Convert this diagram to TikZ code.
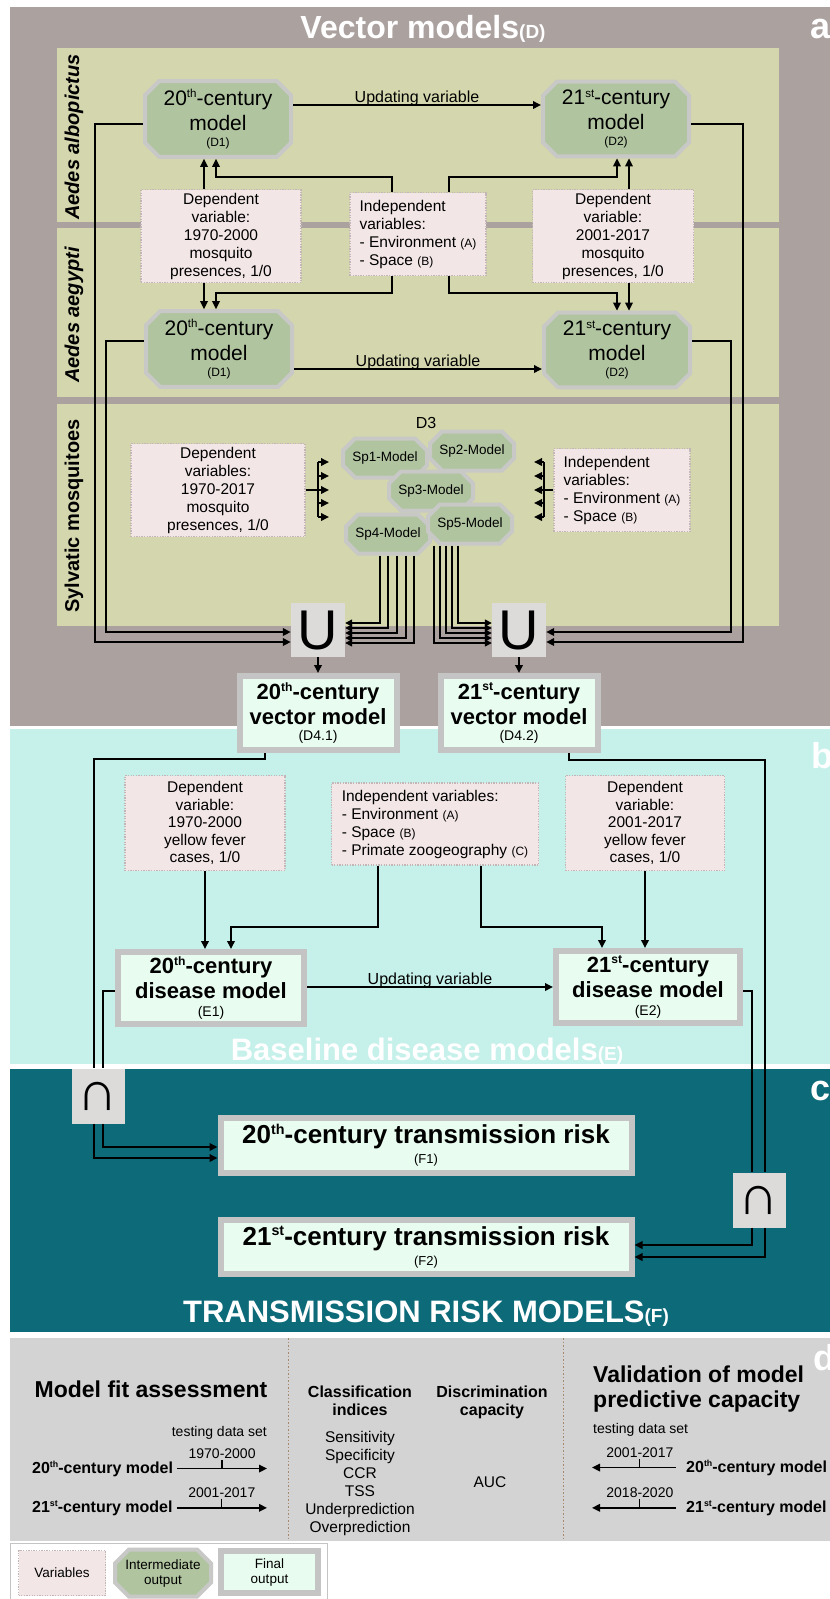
\documentclass[tikz,border=0pt]{standalone}
\usepackage{fontspec}
\setmainfont{Liberation Sans}
\usepackage{graphicx}
\usetikzlibrary{arrows.meta,shapes.misc,calc}

\definecolor{panelA}{RGB}{171,162,160}
\definecolor{bandA}{RGB}{212,215,173}
\definecolor{panelB}{RGB}{198,240,234}
\definecolor{panelC}{RGB}{13,106,121}
\definecolor{panelD}{RGB}{211,211,211}
\definecolor{varFill}{RGB}{243,230,230}
\definecolor{varLine}{RGB}{196,182,182}
\definecolor{octFill}{RGB}{176,196,160}
\definecolor{octLine}{RGB}{200,200,198}
\definecolor{finFill}{RGB}{233,252,240}
\definecolor{finLine}{RGB}{196,196,196}
\definecolor{opFill}{RGB}{221,218,218}
\definecolor{sepLine}{RGB}{165,138,112}

\newcommand{\fsize}[2]{\fontsize{#1}{#2}\selectfont}
\newcommand{\ord}[1]{\raisebox{0.7ex}{\scalebox{0.55}{#1}}}

\begin{document}
\begin{tikzpicture}[
    x=1pt, y=-1pt,
    >={Triangle[length=8pt,width=7.5pt]},
    link/.style={draw=black, line width=1.8pt},
    arr/.style={link, ->},
    bundle/.style={draw=black, line width=1.4pt, -{Triangle[length=7pt,width=7pt]}},
    varbox/.style={rectangle, draw=varLine, dash pattern=on 1.3pt off 1.3pt, line width=1.4pt, fill=varFill, align=center, inner sep=2pt, font=\fsize{15.5}{18}},
    interbox/.style={chamfered rectangle, chamfered rectangle sep=7pt, draw=octLine, line width=4pt, fill=octFill, align=center, inner sep=1pt, font=\fsize{21}{25}},
    spbox/.style={interbox, chamfered rectangle sep=6pt, minimum width=84pt, minimum height=39pt, font=\fsize{13.5}{15}},
    finalbox/.style={rectangle, draw=finLine, line width=6pt, fill=finFill, align=center, inner sep=1pt, font=\bfseries\fsize{22}{25}},
    opbox/.style={rectangle, fill=opFill, minimum width=54pt, minimum height=54pt, inner sep=0pt, font=\fsize{56}{56}},
    sectitle/.style={text=white, font=\bfseries\fsize{31}{31}, anchor=base},
    panelletter/.style={text=white, font=\bfseries\fsize{36}{36}, anchor=base west, inner sep=0pt},
    bandlabel/.style={rotate=90, font=\bfseries\fsize{20}{20}},
    updlabel/.style={midway, anchor=base, yshift=3pt, inner sep=0pt, font=\fsize{16}{16}},
    yearlabel/.style={anchor=base, yshift=10pt, inner sep=0pt, font=\fsize{14}{14}},
    sepline/.style={draw=sepLine, line width=1pt, dash pattern=on 1.5pt off 2pt},
    tickline/.style={draw=black, line width=1.2pt}
]
    \useasboundingbox (0,0) rectangle (830,1599);
    \clip (0,0) rectangle (830,1599);

    % Panels
    \fill[panelA] (10,7) rectangle (830,726);
    \foreach \ya/\yb in {48/222, 228/397, 404/626}
        \fill[bandA] (57,\ya) rectangle (779,\yb);
    \fill[panelB] (10,729) rectangle (830,1064);
    \fill[panelC] (10,1069) rectangle (830,1332);
    \fill[panelD] (10,1338) rectangle (830,1541);
    \filldraw[fill=white, draw=finLine, line width=1pt] (10,1543) rectangle (327,1610);

    % Titles
    \node[sectitle, font=\bfseries\fsize{32}{32}] (titleD) at (423,38) {Vector models{\fsize{19}{19}(D)}};
    \node[sectitle] (titleE) at (427,1060) {Baseline disease models{\fsize{19}{19}(E)}};
    \node[sectitle] (titleF) at (426,1322) {TRANSMISSION RISK MODELS{\fsize{19}{19}(F)}};
    \node[panelletter] at (810,38) {a};
    \node[panelletter] at (811,768) {b};
    \node[panelletter] at (810,1100) {c};
    \node[panelletter] at (813,1370) {d};

    % Band labels
    \node[bandlabel] at (74,137) {\itshape Aedes albopictus};
    \node[bandlabel] at (74,315) {\itshape Aedes aegypti};
    \node[bandlabel] at (74,516) {Sylvatic mosquitoes};

    % Albopictus and aegypti models
    \node[interbox, minimum width=146pt, minimum height=74pt] (alb20) at (218,119) {20\ord{th}-century\\model\\[-9pt]{\fsize{12}{12}(D1)}};
    \node[interbox, minimum width=146pt, minimum height=74pt] (alb21) at (616,119) {21\ord{st}-century\\model\\[-9pt]{\fsize{12}{12}(D2)}};
    \node[interbox, minimum width=146pt, minimum height=74pt] (aeg20) at (219,349) {20\ord{th}-century\\model\\[-9pt]{\fsize{12}{12}(D1)}};
    \node[interbox, minimum width=146pt, minimum height=74pt] (aeg21) at (617,350) {21\ord{st}-century\\model\\[-9pt]{\fsize{12}{12}(D2)}};

    % Variables for both Aedes
    \node[varbox, minimum width=160pt, minimum height=93pt] (depA20) at (221,236) {Dependent\\variable:\\1970-2000\\mosquito\\presences, 1/0};
    \node[varbox, minimum width=136pt, minimum height=83pt, align=left] (indA) at (418,234) {Independent\\variables:\\- Environment {\fsize{12}{12}(A)}\\- Space {\fsize{12}{12}(B)}};
    \node[varbox, minimum width=161pt, minimum height=93pt] (depA21) at (613,236) {Dependent\\variable:\\2001-2017\\mosquito\\presences, 1/0};

    % Sylvatic mosquitoes
    \node[font=\fsize{16}{16}] (d3) at (426,423) {D3};
    \node[varbox, minimum width=174pt, minimum height=93pt] (depS) at (218,490) {Dependent\\variables:\\1970-2017\\mosquito\\presences, 1/0};
    \node[varbox, minimum width=136pt, minimum height=83pt, align=left] (indS) at (622,490) {Independent\\variables:\\- Environment {\fsize{12}{12}(A)}\\- Space {\fsize{12}{12}(B)}};
    \node[spbox] (sp1) at (385,458) {Sp1-Model};
    \node[spbox] (sp2) at (472,451) {Sp2-Model};
    \node[spbox] (sp3) at (431,491) {Sp3-Model};
    \node[spbox] (sp4) at (388,534) {Sp4-Model};
    \node[spbox] (sp5) at (470,524) {Sp5-Model};

    % Unions and vector models
    \node[opbox] (un20) at (318,630) {U};
    \node[opbox] (un21) at (519,630) {U};
    \node[finalbox, minimum width=157pt, minimum height=74pt] (vec20) at (318,713) {20\ord{th}-century\\vector model\\[-9pt]{\mdseries\fsize{14}{14}(D4.1)}};
    \node[finalbox, minimum width=157pt, minimum height=74pt] (vec21) at (519,713) {21\ord{st}-century\\vector model\\[-9pt]{\mdseries\fsize{14}{14}(D4.2)}};

    % Baseline disease models
    \node[varbox, minimum width=160pt, minimum height=95pt, font=\fsize{15.5}{17.5}] (depE20) at (205,823) {Dependent\\variable:\\1970-2000\\yellow fever\\cases, 1/0};
    \node[varbox, minimum width=207pt, minimum height=82pt, align=left] (indE) at (435,824) {Independent variables:\\- Environment {\fsize{12}{12}(A)}\\- Space {\fsize{12}{12}(B)}\\- Primate zoogeography {\fsize{12}{12}(C)}};
    \node[varbox, minimum width=159pt, minimum height=95pt, font=\fsize{15.5}{17.5}] (depE21) at (645,823) {Dependent\\variable:\\2001-2017\\yellow fever\\cases, 1/0};
    \node[finalbox, minimum width=186pt, minimum height=72pt] (dis20) at (211,988) {20\ord{th}-century\\disease model\\[-7pt]{\mdseries\fsize{14}{14}(E1)}};
    \node[finalbox, minimum width=184pt, minimum height=72pt] (dis21) at (648,987) {21\ord{st}-century\\disease model\\[-7pt]{\mdseries\fsize{14}{14}(E2)}};

    % Intersections and transmission risk
    \node[opbox, minimum width=53pt, minimum height=55pt] (in20) at (98,1096) {∩};
    \node[opbox, minimum width=53pt, minimum height=55pt] (in21) at (759,1200) {∩};
    \node[finalbox, minimum width=411pt, minimum height=55pt, font=\bfseries\fsize{26}{30}] (risk20) at (426,1145) {20\ord{th}-century transmission risk\\[-10pt]{\mdseries\fsize{13}{13}(F1)}};
    \node[finalbox, minimum width=411pt, minimum height=54pt, font=\bfseries\fsize{26}{30}] (risk21) at (426,1247) {21\ord{st}-century transmission risk\\[-10pt]{\mdseries\fsize{13}{13}(F2)}};

    % Arrows: Aedes inputs
    \draw[arr] (204,0 |- depA20.north) -- (204,0 |- alb20.south);
    \draw[arr] (204,0 |- depA20.south) -- (204,0 |- aeg20.north);
    \draw[arr] (392,0 |- indA.north) |- (216,177) -- (216,0 |- alb20.south);
    \draw[arr] (392,0 |- indA.south) |- (216,293) -- (216,0 |- aeg20.north);
    \draw[arr] (449,0 |- indA.north) |- (617,177) -- (617,0 |- alb21.south);
    \draw[arr] (449,0 |- indA.south) |- (617,293) -- (617,0 |- aeg21.north);
    \draw[arr] (629,0 |- depA21.north) -- (629,0 |- alb21.south);
    \draw[arr] (629,0 |- depA21.south) -- (629,0 |- aeg21.north);
    \draw[arr] (alb20.east |- 0,105) -- node[updlabel]{Updating variable} (alb21.west |- 0,105);
    \draw[arr] (aeg20.east |- 0,369) -- node[updlabel]{Updating variable} (aeg21.west |- 0,369);

    % Arrows: sylvatic inputs
    \coordinate (depbar) at (318,490);
    \coordinate (indbar) at (544,490);
    \draw[link] (depS.east) -- (depbar);
    \draw[link] ([yshift=28pt]depbar) -- ([yshift=-27pt]depbar);
    \foreach \dy in {28,14,0,-13,-27}
        \draw[arr] ([yshift=\dy pt]depbar) -- ([yshift=\dy pt, xshift=11pt]depbar);
    \draw[link] (indS.west) -- (indbar);
    \draw[link] ([yshift=28pt]indbar) -- ([yshift=-27pt]indbar);
    \foreach \dy in {28,14,0,-13,-27}
        \draw[arr] ([yshift=\dy pt]indbar) -- ([yshift=\dy pt, xshift=-10pt]indbar);

    % Arrows: into the unions
    \draw[arr] (alb20.west |- 0,124) -| (95,642) -- (un20.west |- 0,642);
    \draw[arr] (aeg20.west |- 0,341) -| (106,632) -- (un20.west |- 0,632);
    \draw[arr] (alb21.east |- 0,124) -| (743,642) -- (un21.east |- 0,642);
    \draw[arr] (aeg21.east |- 0,341) -| (731,632) -- (un21.east |- 0,632);
    \foreach \x/\y in {380/623, 388/628, 397/633, 406/638, 414/643}
        \draw[bundle] (\x,0 |- sp4.south) |- (un20.east |- 0,\y);
    \foreach \x/\y in {434/643, 440/638, 446/633, 452/628, 458/623}
        \draw[bundle] (\x,0 |- sp5.south) |- (un21.west |- 0,\y);
    \draw[arr] (un20) -- (vec20);
    \draw[arr] (un21) -- (vec21);

    % Arrows: disease models
    \draw[arr] (205,0 |- depE20.south) -- (205,0 |- dis20.north);
    \draw[arr] (378,0 |- indE.south) |- (231,927) -- (231,0 |- dis20.north);
    \draw[arr] (481,0 |- indE.south) |- (602,927) -- (602,0 |- dis21.north);
    \draw[arr] (645,0 |- depE21.south) -- (645,0 |- dis21.north);
    \draw[arr] (dis20.east |- 0,987) -- node[updlabel]{Updating variable} (dis21.west |- 0,987);

    % Lines into the intersections
    \draw[link] (265,0 |- vec20.south) |- (94,759) -- (94,0 |- in20.north);
    \draw[link] (dis20.west |- 0,991) -| (103,0 |- in20.north);
    \draw[link] (569,0 |- vec21.south) |- (765,760) -- (765,0 |- in21.north);
    \draw[link] (dis21.east |- 0,991) -| (752,0 |- in21.north);
    \draw[arr] (103,0 |- in20.south) |- (risk20.west |- 0,1147);
    \draw[arr] (94,0 |- in20.south) |- (risk20.west |- 0,1158);
    \draw[arr] (752,0 |- in21.south) |- (risk21.east |- 0,1245);
    \draw[arr] (765,0 |- in21.south) |- (risk21.east |- 0,1257);

    % Assessment panel
    \draw[sepline] (288,1338) -- (288,1541);
    \draw[sepline] (563,1338) -- (563,1541);
    \node[anchor=base, inner sep=0pt, font=\bfseries\fsize{23}{25}] (fitTitle) at (151,1397) {Model fit assessment};
    \node[anchor=base east, inner sep=0pt, font=\fsize{14}{14}] (fitSet) at (267,1436) {testing data set};
    \node[anchor=base west, inner sep=0pt, font=\bfseries\fsize{16}{16}] (fit20) at (32,1473) {20\ord{th}-century model};
    \node[anchor=base west, inner sep=0pt, font=\bfseries\fsize{16}{16}] (fit21) at (32,1512) {21\ord{st}-century model};
    \draw[arr] ([xshift=4pt]fit20.east) -- coordinate[midway] (tick1) node[midway, yearlabel]{1970-2000} (fit20.east -| 267,0);
    \draw[arr] ([xshift=4pt]fit21.east) -- coordinate[midway] (tick2) node[midway, yearlabel]{2001-2017} (fit21.east -| 267,0);
    \draw[tickline] (tick1) -- ++(0,-9);
    \draw[tickline] (tick2) -- ++(0,-9);

    \node[anchor=north, align=center, inner sep=0pt, font=\bfseries\fsize{16}{18}] (classT) at (360,1386) {Classification\\indices};
    \node[anchor=north, align=center, inner sep=0pt, font=\bfseries\fsize{16}{18}] (discT) at (492,1386) {Discrimination\\capacity};
    \node[anchor=north, align=center, inner sep=0pt, font=\fsize{15.5}{18}] (classL) at (360,1431) {Sensitivity\\Specificity\\CCR\\TSS\\Underprediction\\Overprediction};
    \node[anchor=base, inner sep=0pt, font=\fsize{15.5}{18}] (auc) at (490,1487) {AUC};

    \node[anchor=north west, align=left, inner sep=0pt, font=\bfseries\fsize{23}{25}] (valTitle) at (593,1366) {Validation of model\\predictive capacity};
    \node[anchor=base west, inner sep=0pt, font=\fsize{14}{14}] (valSet) at (593,1433) {testing data set};
    \node[anchor=base west, inner sep=0pt, font=\bfseries\fsize{16}{16}] (val20) at (686,1472) {20\ord{th}-century model};
    \node[anchor=base west, inner sep=0pt, font=\bfseries\fsize{16}{16}] (val21) at (686,1512) {21\ord{st}-century model};
    \draw[arr] ([xshift=-10pt]val20.west) -- coordinate[pos=0.43] (tick3) node[pos=0.43, yearlabel]{2001-2017} (val20.west -| 592,0);
    \draw[arr] ([xshift=-10pt]val21.west) -- coordinate[pos=0.43] (tick4) node[pos=0.43, yearlabel]{2018-2020} (val21.west -| 592,0);
    \draw[tickline] (tick3) -- ++(0,-9);
    \draw[tickline] (tick4) -- ++(0,-9);

    % Legend
    \node[varbox, minimum width=87pt, minimum height=45pt, font=\fsize{13.5}{15}] (legVar) at (62,1573) {Variables};
    \node[interbox, chamfered rectangle sep=7pt, minimum width=96pt, minimum height=47pt, font=\fsize{13.5}{15}] (legInt) at (163,1573) {Intermediate\\output};
    \node[finalbox, minimum width=97pt, minimum height=42pt, font=\fsize{13.5}{15}] (legFin) at (269.5,1572) {Final\\output};
\end{tikzpicture}
\end{document}
